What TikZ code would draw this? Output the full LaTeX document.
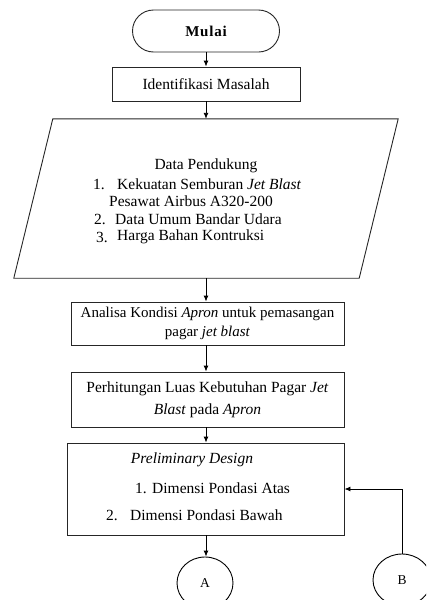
\documentclass[tikz,border=0pt]{standalone}
\usepackage{fontspec}
\setmainfont{Liberation Serif}
\usetikzlibrary{arrows.meta,calc,shapes.geometric}
\begin{document}
\begin{tikzpicture}[x=1pt,y=-1pt,
  every node/.style={font=\fontsize{15.5}{19}\selectfont},
  box/.style={draw=black!85, line width=0.9pt, inner sep=0pt},
  link/.style={draw=black, line width=0.9pt, -{Latex[length=6pt,width=5pt]}},
  txt/.style={inner sep=0pt, anchor=west},
  ctxt/.style={inner sep=0pt},
  conn/.style={draw=black, line width=0.9pt, ellipse, inner sep=0pt, font=\fontsize{13.5}{15}\selectfont},
]
\useasboundingbox (0,0) rectangle (426,600);
\clip (0,0) rectangle (426,600);

% terminator
\node[box, rounded corners=21pt, minimum width=147pt, minimum height=42pt,
  font=\fontsize{15}{17}\selectfont\bfseries\addfontfeature{LetterSpace=5}] (mulai) at (206,31) {Mulai};

% process 1
\node[box, minimum width=188pt, minimum height=34pt] (ident) at (206,84) {Identifikasi Masalah};

% data (parallelogram)
\node[inner sep=0pt, minimum width=384pt, minimum height=159pt] (para) at (206,198.5) {};
\draw[box] ($(para.north west)+(39,0)$) -- (para.north east) -- ($(para.south east)+(-39,0)$) -- (para.south west) -- cycle;
\node[ctxt] (dp) at (206,166) {Data Pendukung};
\node[txt] (n1) at (93,184) {1.};
\node[txt] (k1) at (117,184) {Kekuatan Semburan \textit{Jet Blast}};
\node[ctxt] (p1) at (191,201) {Pesawat Airbus A320-200};
\node[txt] (n2) at (94,219) {2.};
\node[txt] (k2) at (115,219) {Data Umum Bandar Udara};
\node[txt] (n3) at (96,237) {3.};
\node[txt] (k3) at (117,237) {Harga Bahan Kontruksi};

% process 2
\node[box, minimum width=273pt, minimum height=43pt, align=center,
  font=\fontsize{15}{19}\selectfont] (anal) at (207.5,323.5)
  {Analisa Kondisi \textit{Apron} untuk pemasangan\\pagar \textit{jet blast}};

% process 3
\node[box, minimum width=273pt, minimum height=55pt, align=center] (hitung) at (207.5,399.5)
  {Perhitungan Luas Kebutuhan Pagar \textit{Jet}\\[3pt]\textit{Blast} pada \textit{Apron}};

% process 4
\node[box, minimum width=277pt, minimum height=92pt] (prelim) at (205.5,489) {};
\node[ctxt] (pd) at (192,460) {\textit{Preliminary Design}};
\node[txt] (m1) at (135,488) {1.};
\node[txt] (d1) at (152,488) {Dimensi Pondasi Atas};
\node[txt] (m2) at (106,515) {2.};
\node[txt] (d2) at (130,515) {Dimensi Pondasi Bawah};

% off-page connectors
\node[conn, minimum width=56pt, minimum height=52pt] (A) at (205,583) {A};
\node[conn, minimum width=58pt, minimum height=52pt] (B) at (402,580) {B};

\draw[link] (mulai.south) -- (mulai.south |- ident.north);
\draw[link] (ident.south) -- (ident.south |- para.north);
\draw[link] (para.south) -- (para.south |- anal.north);
\draw[link] (para.south |- anal.south) -- (para.south |- hitung.north);
\draw[link] (para.south |- hitung.south) -- (para.south |- prelim.north);
\draw[link] (para.south |- prelim.south) -- (para.south |- A.north);
\draw[link] (B.north) |- (prelim.east);
\end{tikzpicture}
\end{document}
